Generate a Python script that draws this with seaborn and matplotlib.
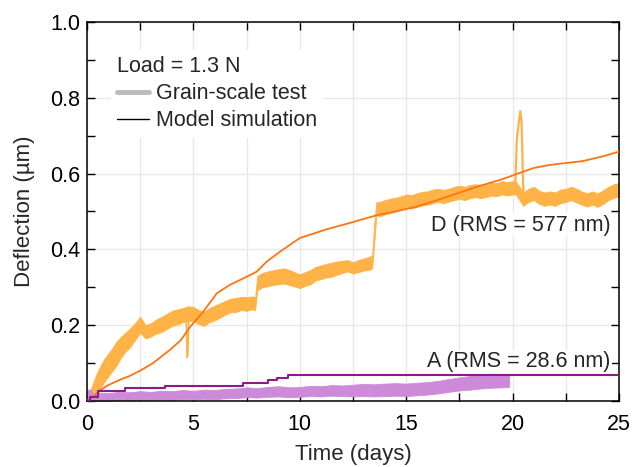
import numpy as np
import pandas as pd
import seaborn as sns
import matplotlib
matplotlib.use("Agg")
import matplotlib.pyplot as plt
from matplotlib.lines import Line2D
from matplotlib.ticker import MultipleLocator

# ---------------- data ----------------
# D grain-scale test: band (lower / upper) over time
d_test_t = [0.0, 0.2, 0.4, 0.6, 0.8, 1.0, 1.2, 1.4, 1.6, 1.8, 2.0, 2.25, 2.5, 2.75, 3.0,
            3.25, 3.5, 3.75, 4.0, 4.25, 4.5, 4.75, 5.0, 5.25, 5.5, 5.75, 6.0, 6.25, 6.5,
            6.75, 7.0, 7.25, 7.5, 7.75, 7.9, 8.0, 8.25, 8.5, 8.75, 9.0, 9.25, 9.5, 9.75,
            10.0, 10.25, 10.5, 10.75, 11.0, 11.25, 11.5, 11.75, 12.0, 12.25, 12.5, 12.75,
            13.0, 13.25, 13.4, 13.5, 13.6, 13.8, 14.0, 14.25, 14.5, 14.75, 15.0, 15.25,
            15.5, 15.75, 16.0, 16.25, 16.5, 16.75, 17.0, 17.25, 17.5, 17.75, 18.0, 18.25,
            18.5, 18.75, 19.0, 19.25, 19.5, 19.75, 20.0, 20.15, 20.5, 20.75, 21.0, 21.25,
            21.5, 21.75, 22.0, 22.25, 22.5, 22.75, 23.0, 23.25, 23.5, 23.75, 24.0, 24.25,
            24.5, 24.75, 25.0]
d_test_lo = [0.0, 0.0, 0.01, 0.03, 0.05, 0.065, 0.08, 0.095, 0.115, 0.13, 0.14, 0.16, 0.18,
             0.165, 0.17, 0.178, 0.182, 0.19, 0.198, 0.202, 0.208, 0.212, 0.21, 0.203,
             0.198, 0.208, 0.213, 0.22, 0.228, 0.234, 0.235, 0.24, 0.238, 0.242, 0.24,
             0.292, 0.3, 0.303, 0.306, 0.308, 0.31, 0.306, 0.302, 0.298, 0.304, 0.308,
             0.318, 0.322, 0.326, 0.328, 0.333, 0.338, 0.342, 0.336, 0.34, 0.344, 0.346,
             0.35, 0.42, 0.49, 0.488, 0.492, 0.496, 0.5, 0.505, 0.51, 0.508, 0.512, 0.516,
             0.518, 0.522, 0.525, 0.522, 0.526, 0.53, 0.533, 0.53, 0.535, 0.538, 0.535,
             0.538, 0.542, 0.54, 0.545, 0.542, 0.545, 0.545, 0.515, 0.525, 0.53, 0.52,
             0.515, 0.518, 0.515, 0.522, 0.525, 0.53, 0.524, 0.518, 0.513, 0.518, 0.512,
             0.52, 0.53, 0.536, 0.54]
d_test_hi = [0.0, 0.035, 0.065, 0.09, 0.11, 0.125, 0.14, 0.158, 0.17, 0.18, 0.19, 0.205, 0.222,
             0.2, 0.205, 0.215, 0.222, 0.23, 0.238, 0.242, 0.245, 0.25, 0.248, 0.24,
             0.236, 0.245, 0.252, 0.258, 0.264, 0.27, 0.272, 0.275, 0.274, 0.276, 0.274,
             0.33, 0.338, 0.342, 0.345, 0.348, 0.35, 0.346, 0.34, 0.334, 0.34, 0.346,
             0.354, 0.358, 0.362, 0.365, 0.368, 0.37, 0.372, 0.366, 0.372, 0.376, 0.38,
             0.385, 0.47, 0.525, 0.526, 0.53, 0.534, 0.536, 0.54, 0.545, 0.543, 0.548,
             0.552, 0.553, 0.558, 0.56, 0.557, 0.56, 0.565, 0.568, 0.565, 0.57, 0.572,
             0.57, 0.573, 0.577, 0.575, 0.58, 0.577, 0.58, 0.58, 0.55, 0.56, 0.565, 0.555,
             0.55, 0.553, 0.55, 0.558, 0.56, 0.565, 0.56, 0.553, 0.548, 0.553, 0.548,
             0.556, 0.565, 0.572, 0.575]
# spikes in the D test record
d_spike1_t = [4.66, 4.70, 4.74, 4.78]
d_spike1_v = [0.23, 0.115, 0.12, 0.232]
d_spike2_t = [20.12, 20.2, 20.28, 20.36, 20.42, 20.48, 20.52]
d_spike2_v = [0.565, 0.69, 0.73, 0.765, 0.74, 0.6, 0.53]

# D model simulation
d_model_t = [0.0, 0.3, 0.6, 1.0, 1.5, 2.0, 2.5, 3.1, 3.9, 4.4, 4.84, 5.45, 6.1, 6.7, 7.4,
             7.97, 8.45, 9.07, 10.0, 11.26, 12.36, 13.6, 14.5, 15.5, 17.0, 18.3, 19.5,
             20.25, 21.0, 21.76, 23.3, 24.2, 25.0]
d_model_v = [0.0, 0.012, 0.028, 0.042, 0.055, 0.066, 0.08, 0.1, 0.135, 0.16, 0.195, 0.235,
             0.284, 0.306, 0.325, 0.341, 0.368, 0.394, 0.43, 0.453, 0.47, 0.49, 0.5,
             0.513, 0.54, 0.565, 0.585, 0.6, 0.615, 0.623, 0.633, 0.645, 0.658]

# A grain-scale test: band (lower / upper)
a_test_t = [0.0, 0.2, 0.25, 0.5, 1.0, 1.5, 2.0, 2.5, 3.0, 3.5, 4.0, 4.5, 5.0, 5.5, 6.0,
            6.5, 7.0, 7.5, 8.0, 8.5, 9.0, 9.5, 10.0, 10.5, 11.0, 11.5, 12.0, 12.5, 13.0,
            13.5, 14.0, 14.5, 15.0, 15.5, 16.0, 16.5, 17.0, 17.5, 18.0, 18.5, 19.0, 19.5,
            19.84]
a_test_lo = [0.0, 0.0, 0.0, 0.0, 0.0, 0.002, 0.001, 0.003, 0.002, 0.004, 0.003, 0.005,
             0.004, 0.006, 0.005, 0.007, 0.008, 0.01, 0.009, 0.011, 0.012, 0.01, 0.011,
             0.013, 0.012, 0.014, 0.013, 0.012, 0.013, 0.012, 0.013, 0.014, 0.013, 0.015,
             0.017, 0.02, 0.024, 0.028, 0.03, 0.033, 0.035, 0.036, 0.037]
a_test_hi = [0.03, 0.03, 0.02, 0.022, 0.021, 0.024, 0.023, 0.026, 0.024, 0.027, 0.026,
             0.029, 0.027, 0.03, 0.029, 0.032, 0.033, 0.036, 0.034, 0.037, 0.039, 0.036,
             0.037, 0.04, 0.039, 0.042, 0.041, 0.043, 0.045, 0.044, 0.046, 0.047, 0.046,
             0.048, 0.05, 0.053, 0.058, 0.062, 0.066, 0.07, 0.072, 0.071, 0.07]

# A model simulation (step function)
a_model_t = [0.0, 0.12, 0.3, 0.53, 1.79, 3.67, 7.35, 8.52, 8.91, 9.46, 25.0]
a_model_v = [0.0, 0.011, 0.011, 0.027, 0.033, 0.040, 0.047, 0.055, 0.060, 0.068, 0.068]

x_ticks = [0, 5, 10, 15, 20, 25]
y_ticks = [0.0, 0.2, 0.4, 0.6, 0.8, 1.0]

legend_title = "Load = 1.3 N"
legend_labels = ["Grain-scale test", "Model simulation"]
label_d = "D (RMS = 577 nm)"
label_a = "A (RMS = 28.6 nm)"

# ---------------- styling ----------------
sns.set_theme(style="ticks")
plt.rcParams["font.family"] = ["Liberation Sans", "DejaVu Sans"]
plt.rcParams["mathtext.default"] = "regular"

C_D_TEST = "#FFB347"
C_D_MODEL = "#FF7410"
C_A_TEST = "#CD8AD8"
C_A_MODEL = "#8A1C8A"

fig = plt.figure(figsize=(6.34, 4.67), dpi=100)
ax = fig.add_axes([87 / 634, 1 - 401 / 467, (619 - 87) / 634, (401 - 22) / 467])

# grain-scale test bands
ax.fill_between(d_test_t, d_test_lo, d_test_hi, color=C_D_TEST, lw=0.6, zorder=2)
sns.lineplot(x=d_spike1_t, y=d_spike1_v, ax=ax, color=C_D_TEST, lw=1.2, sort=False,
             estimator=None, zorder=2)
sns.lineplot(x=d_spike2_t, y=d_spike2_v, ax=ax, color=C_D_TEST, lw=1.6, sort=False,
             estimator=None, zorder=2)
ax.fill_between(a_test_t, a_test_lo, a_test_hi, color=C_A_TEST, lw=0.6, zorder=2)

# model simulations
sns.lineplot(x=d_model_t, y=d_model_v, ax=ax, color=C_D_MODEL, lw=1.3,
             estimator=None, zorder=3)
ax.step(a_model_t, a_model_v, where="post", color=C_A_MODEL, lw=1.5, zorder=3)

ax.set_xlim(0, 25)
ax.set_ylim(0, 1.0)
ax.set_xticks(x_ticks)
ax.set_yticks(y_ticks)
ax.set_xticklabels([str(v) for v in x_ticks])
ax.set_yticklabels([f"{v:.1f}" for v in y_ticks])
ax.xaxis.set_minor_locator(MultipleLocator(2.5))
ax.yaxis.set_minor_locator(MultipleLocator(0.1))

ax.tick_params(which="both", direction="in", top=True, right=True, colors="black",
               labelsize=15.5, width=1.0)
ax.tick_params(which="major", length=6)
ax.tick_params(which="minor", length=6)
ax.tick_params(axis="x", which="major", pad=9)
ax.tick_params(axis="y", which="major", pad=5)

ax.grid(which="major", axis="y", color="#E8E8E8", lw=1.0, zorder=0)
ax.grid(which="both", axis="x", color="#E8E8E8", lw=1.0, zorder=0)
ax.set_axisbelow(True)

for sp in ax.spines.values():
    sp.set_visible(True)
    sp.set_color("black")
    sp.set_linewidth(1.1)

ax.set_xlabel("Time (days)", fontsize=16, labelpad=7)
ax.set_ylabel("Deflection (\u00b5m)", fontsize=16, labelpad=11)

# labels
ax.text(24.6, 0.464, label_d, ha="right", va="center", fontsize=15.5, zorder=4,
        bbox=dict(facecolor="white", edgecolor="none", pad=1.0))
ax.text(24.6, 0.104, label_a, ha="right", va="center", fontsize=15.5, zorder=4,
        bbox=dict(facecolor="white", edgecolor="none", pad=1.0))

handles = [Line2D([], [], color="#BBBBBB", lw=3.5),
           Line2D([], [], color="black", lw=1.0)]
leg = ax.legend(handles, legend_labels, title=legend_title, loc="upper left",
                bbox_to_anchor=(0.024, 0.955), fontsize=15.5, title_fontsize=15.5,
                frameon=True, facecolor="white", edgecolor="none", framealpha=1.0,
                handlelength=1.5, handletextpad=0.3, labelspacing=0.28,
                borderpad=0.3, alignment="left", fancybox=False)
leg.set_zorder(5)

fig.savefig("out.png", dpi=100)
